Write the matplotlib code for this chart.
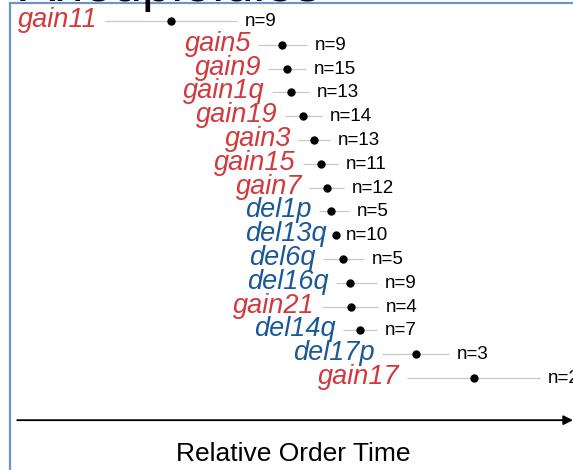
import numpy as np
import matplotlib.pyplot as plt
from matplotlib.lines import Line2D

plt.rcParams['font.family'] = ['Liberation Sans', 'DejaVu Sans']

# aneuploidy events, earliest first
events = ["gain11", "gain5", "gain9", "gain1q", "gain19", "gain3", "gain15", "gain7",
          "del1p", "del13q", "del6q", "del16q", "gain21", "del14q", "del17p", "gain17"]
# relative order time: point estimate and interval
order_time = [17.75, 45.5, 46.75, 47.75, 50.75, 53.5, 55.25, 56.75,
              57.75, 59.0, 60.75, 62.5, 62.75, 65.0, 79.0, 93.5]
low = [1.25, 39.5, 42.0, 43.0, 46.25, 49.5, 50.75, 52.25,
       54.75, 58.5, 55.75, 59.0, 55.5, 60.75, 70.5, 76.75]
high = [34.25, 51.75, 51.5, 52.25, 55.5, 57.5, 59.5, 61.0,
        62.25, 59.5, 66.0, 69.25, 69.5, 69.25, 87.25, 110.0]
counts = [9, 9, 15, 13, 14, 13, 11, 12, 5, 10, 5, 9, 4, 7, 3, 2]

red = '#d2383c'
blue = '#1b5898'

fig = plt.figure(figsize=(5.73, 4.70), dpi=100)
ax = fig.add_axes([0, 0, 1, 1])
ax.set_xlim(-25, 118.25)
ax.set_ylim(18.87, -0.88)
ax.axis('off')

y = np.arange(len(events))
ax.hlines(y, low, high, color='#c8c8c8', lw=0.9, zorder=1)
ax.plot(order_time, y, 'o', color='black', ms=5, zorder=2)

for i, name in enumerate(events):
    col = red if name.startswith('gain') else blue
    ax.annotate(name, (low[i], y[i]), xytext=(-7, -6), textcoords='offset pixels',
                ha='right', va='baseline', style='italic', fontsize=19.5, color=col)
    ax.annotate(f"n={counts[i]}", (high[i], y[i]), xytext=(8, -5),
                textcoords='offset pixels', ha='left', va='baseline',
                fontsize=13.5, color='black')

# time axis arrow
ax.annotate('', xy=(1.0, 0.106), xytext=(0.03, 0.106), xycoords='axes fraction',
            arrowprops=dict(arrowstyle='-|>', lw=1.3, color='black', mutation_scale=14,
                            shrinkA=0, shrinkB=0))
ax.text(0.511, 0.033, "Relative Order Time", transform=ax.transAxes,
        ha='center', va='center', fontsize=19)

# panel frame and heading
fx = 10 / 573
fy = 1 - 3 / 470
fig.add_artist(Line2D([fx, fx], [0, fy], color='#6a95c9', lw=1.6))
fig.add_artist(Line2D([fx, 1], [fy, fy], color='#6a95c9', lw=1.6))
fig.text(20 / 573, 1 - 1 / 470, "Aneuploidies", ha='left', va='baseline',
         fontsize=38, color='black')

fig.savefig('out.png', dpi=100)
